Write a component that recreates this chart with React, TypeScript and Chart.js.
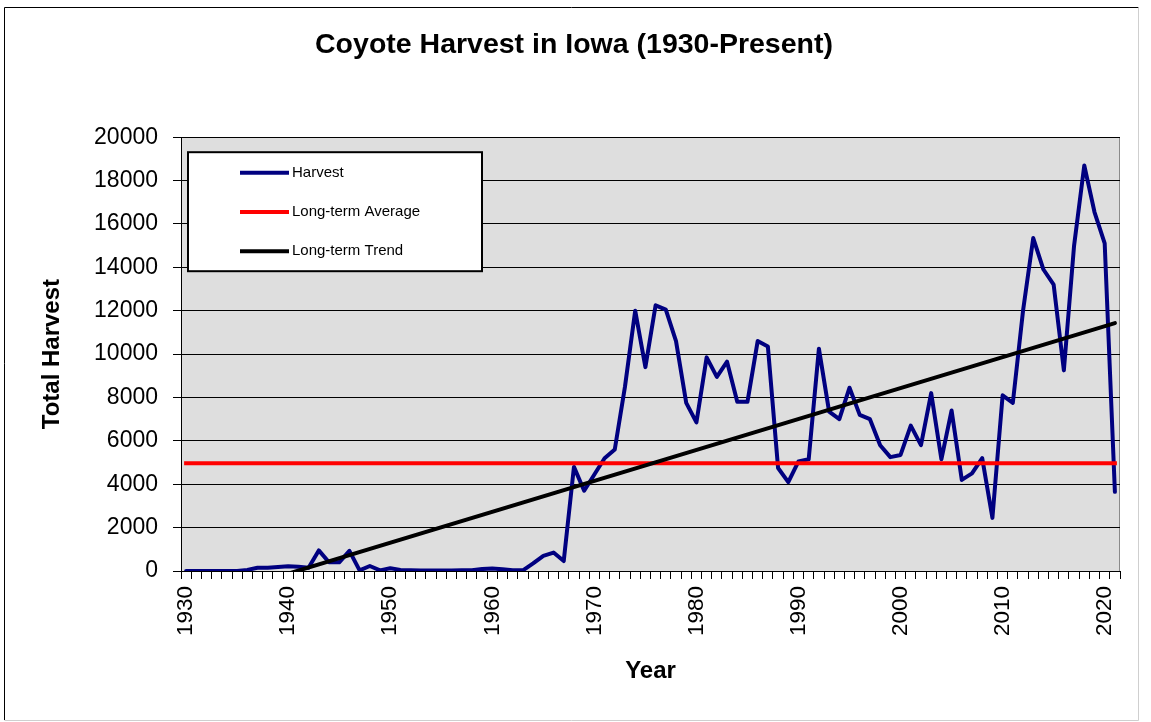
import React, { useEffect, useRef } from 'react';
import { Chart, registerables } from 'chart.js';

Chart.register(...registerables);

// ---- Data ----
const years: number[] = [
  1930, 1931, 1932, 1933, 1934, 1935, 1936, 1937, 1938, 1939,
  1940, 1941, 1942, 1943, 1944, 1945, 1946, 1947, 1948, 1949,
  1950, 1951, 1952, 1953, 1954, 1955, 1956, 1957, 1958, 1959,
  1960, 1961, 1962, 1963, 1964, 1965, 1966, 1967, 1968, 1969,
  1970, 1971, 1972, 1973, 1974, 1975, 1976, 1977, 1978, 1979,
  1980, 1981, 1982, 1983, 1984, 1985, 1986, 1987, 1988, 1989,
  1990, 1991, 1992, 1993, 1994, 1995, 1996, 1997, 1998, 1999,
  2000, 2001, 2002, 2003, 2004, 2005, 2006, 2007, 2008, 2009,
  2010, 2011, 2012, 2013, 2014, 2015, 2016, 2017, 2018, 2019,
  2020, 2021,
];

const harvest: number[] = [
  0, 0, 0, 0, 0, 0, 50, 150, 150, 180,
  220, 200, 150, 950, 400, 400, 930, 30, 230, 30,
  130, 50, 30, 20, 20, 20, 20, 30, 40, 90,
  110, 80, 30, 30, 350, 700, 850, 460, 4800, 3700,
  4450, 5200, 5600, 8500, 12000, 9400, 12250, 12050, 10600, 7750,
  6850, 9850, 8950, 9650, 7800, 7800, 10600, 10350, 4750, 4100,
  5050, 5150, 10250, 7350, 7000, 8450, 7200, 7000, 5800, 5250,
  5350, 6700, 5800, 8200, 5150, 7400, 4200, 4500, 5200, 2450,
  8100, 7750, 12000, 15350, 13900, 13200, 9250, 15000, 18700, 16550,
  15100, 3650,
];

const averageValue = 4970;
const trendStartValue = -1550; // trend value at first year
const trendEndValue = 11430; // trend value at last year

const seriesLabels = ['Harvest', 'Long-term Average', 'Long-term Trend'];
const seriesColors = ['#000080', '#FF0000', '#000000'];

const chartTitle = 'Coyote Harvest in Iowa (1930-Present)';
const xTitle = 'Year';
const yTitle = 'Total Harvest';
const yMin = 0;
const yMax = 20000;
const yStep = 2000;

const FONT = "'Liberation Sans', Arial, Helvetica, sans-serif";

const backgroundPlugin = {
  id: 'bgFrame',
  beforeDraw(chart: any) {
    const { ctx, chartArea: a, width, height } = chart;
    ctx.save();
    ctx.fillStyle = '#ffffff';
    ctx.fillRect(0, 0, width, height);
    // outer frame
    ctx.lineWidth = 1;
    ctx.strokeStyle = '#000000';
    ctx.beginPath();
    ctx.moveTo(4.5, 720);
    ctx.lineTo(4.5, 7.5);
    ctx.lineTo(1138.5, 7.5);
    ctx.stroke();
    ctx.strokeStyle = '#cfcfcf';
    ctx.beginPath();
    ctx.moveTo(1138.5, 7.5);
    ctx.lineTo(1138.5, 720.5);
    ctx.lineTo(4.5, 720.5);
    ctx.stroke();
    // plot area background
    ctx.fillStyle = '#DEDEDE';
    ctx.fillRect(a.left, a.top, a.right - a.left, a.bottom - a.top);
    ctx.strokeStyle = '#8a8a8a';
    ctx.beginPath();
    ctx.moveTo(a.right - 0.5, a.top);
    ctx.lineTo(a.right - 0.5, a.bottom);
    ctx.stroke();
    ctx.restore();
  },
};

const boxLegendPlugin = {
  id: 'boxLegend',
  afterDraw(chart: any) {
    const { ctx, chartArea: a } = chart;
    const x = a.left + 7;
    const y = a.top + 15;
    const w = 294;
    const h = 119;
    ctx.save();
    ctx.fillStyle = '#ffffff';
    ctx.fillRect(x, y, w, h);
    ctx.strokeStyle = '#000000';
    ctx.lineWidth = 2;
    ctx.strokeRect(x, y, w, h);
    chart.data.datasets.forEach((ds: any, i: number) => {
      const ry = y + 20.5 + i * 39.3;
      ctx.strokeStyle = ds.borderColor;
      ctx.lineWidth = 4;
      ctx.lineCap = 'butt';
      ctx.beginPath();
      ctx.moveTo(x + 52, ry);
      ctx.lineTo(x + 101, ry);
      ctx.stroke();
      ctx.fillStyle = '#000000';
      ctx.font = `15px ${FONT}`;
      ctx.textBaseline = 'middle';
      ctx.textAlign = 'left';
      ctx.fillText(ds.label, x + 104, ry);
    });
    ctx.restore();
  },
};

export default function App() {
  const canvasRef = useRef<HTMLCanvasElement>(null);

  useEffect(() => {
    if (!canvasRef.current) return;
    Chart.defaults.font.family = FONT;
    Chart.defaults.color = '#000000';
    const first = years[0];
    const last = years[years.length - 1];
    const chart = new Chart(canvasRef.current, {
      type: 'line',
      data: {
        labels: years,
        datasets: [
          {
            label: seriesLabels[0],
            data: harvest,
            borderColor: seriesColors[0],
            backgroundColor: seriesColors[0],
            borderWidth: 4,
            pointRadius: 0,
            tension: 0,
            borderJoinStyle: 'round',
            borderCapStyle: 'round',
            order: 3,
          },
          {
            label: seriesLabels[1],
            data: [
              { x: first, y: averageValue },
              { x: last, y: averageValue },
            ],
            borderColor: seriesColors[1],
            backgroundColor: seriesColors[1],
            borderWidth: 4,
            pointRadius: 0,
            borderCapStyle: 'square',
            order: 2,
          },
          {
            label: seriesLabels[2],
            data: [
              { x: first, y: trendStartValue },
              { x: last, y: trendEndValue },
            ],
            borderColor: seriesColors[2],
            backgroundColor: seriesColors[2],
            borderWidth: 4,
            pointRadius: 0,
            borderCapStyle: 'round',
            clip: 0,
            order: 1,
          },
        ] as any,
      },
      options: {
        responsive: false,
        animation: false,
        devicePixelRatio: 1,
        layout: { padding: { left: 28, right: 31, top: 10, bottom: 20 } },
        plugins: {
          legend: { display: false },
          tooltip: { enabled: false },
          title: {
            display: true,
            text: chartTitle,
            color: '#000000',
            font: { size: 28.5, weight: 'bold', family: FONT },
            padding: { top: 18, bottom: 75 },
          },
        },
        scales: {
          x: {
            type: 'category',
            offset: true,
            grid: {
              offset: true,
              drawOnChartArea: false,
              drawTicks: true,
              tickLength: 8,
              color: '#000000',
              lineWidth: 1,
            },
            border: { display: true, color: '#000000', width: 1 },
            ticks: {
              autoSkip: false,
              maxRotation: 90,
              minRotation: 90,
              padding: 7,
              color: '#000000',
              font: { size: 22.5, family: FONT },
              callback: (_v: any, i: number) =>
                years[i] % 10 === 0 ? String(years[i]) : '',
            },
            title: {
              display: true,
              text: xTitle,
              color: '#000000',
              font: { size: 24, weight: 'bold', family: FONT },
              padding: { top: 0, bottom: 16.6 },
            },
            afterFit: (s: any) => {
              s.height = 131;
            },
          },
          y: {
            min: yMin,
            max: yMax,
            ticks: {
              stepSize: yStep,
              padding: 15,
              color: '#000000',
              font: { size: 23, family: FONT },
              callback: (v: any) => String(v),
            },
            grid: {
              color: '#000000',
              lineWidth: 1,
              drawTicks: true,
              tickLength: 8,
            },
            border: { display: true, color: '#000000', width: 1 },
            title: {
              display: true,
              text: yTitle,
              color: '#000000',
              font: { size: 24, weight: 'bold', family: FONT },
              padding: { top: 9.6, bottom: 0 },
            },
            afterFit: (s: any) => {
              s.width = 153;
            },
          },
        } as any,
      },
      plugins: [backgroundPlugin, boxLegendPlugin],
    });
    return () => chart.destroy();
  }, []);

  return (
    <div
      style={{
        position: 'fixed',
        left: 0,
        top: 0,
        width: 1151,
        height: 722,
        background: '#ffffff',
      }}
    >
      <canvas
        ref={canvasRef}
        width={1151}
        height={722}
        style={{ display: 'block', width: 1151, height: 722 }}
      />
    </div>
  );
}
